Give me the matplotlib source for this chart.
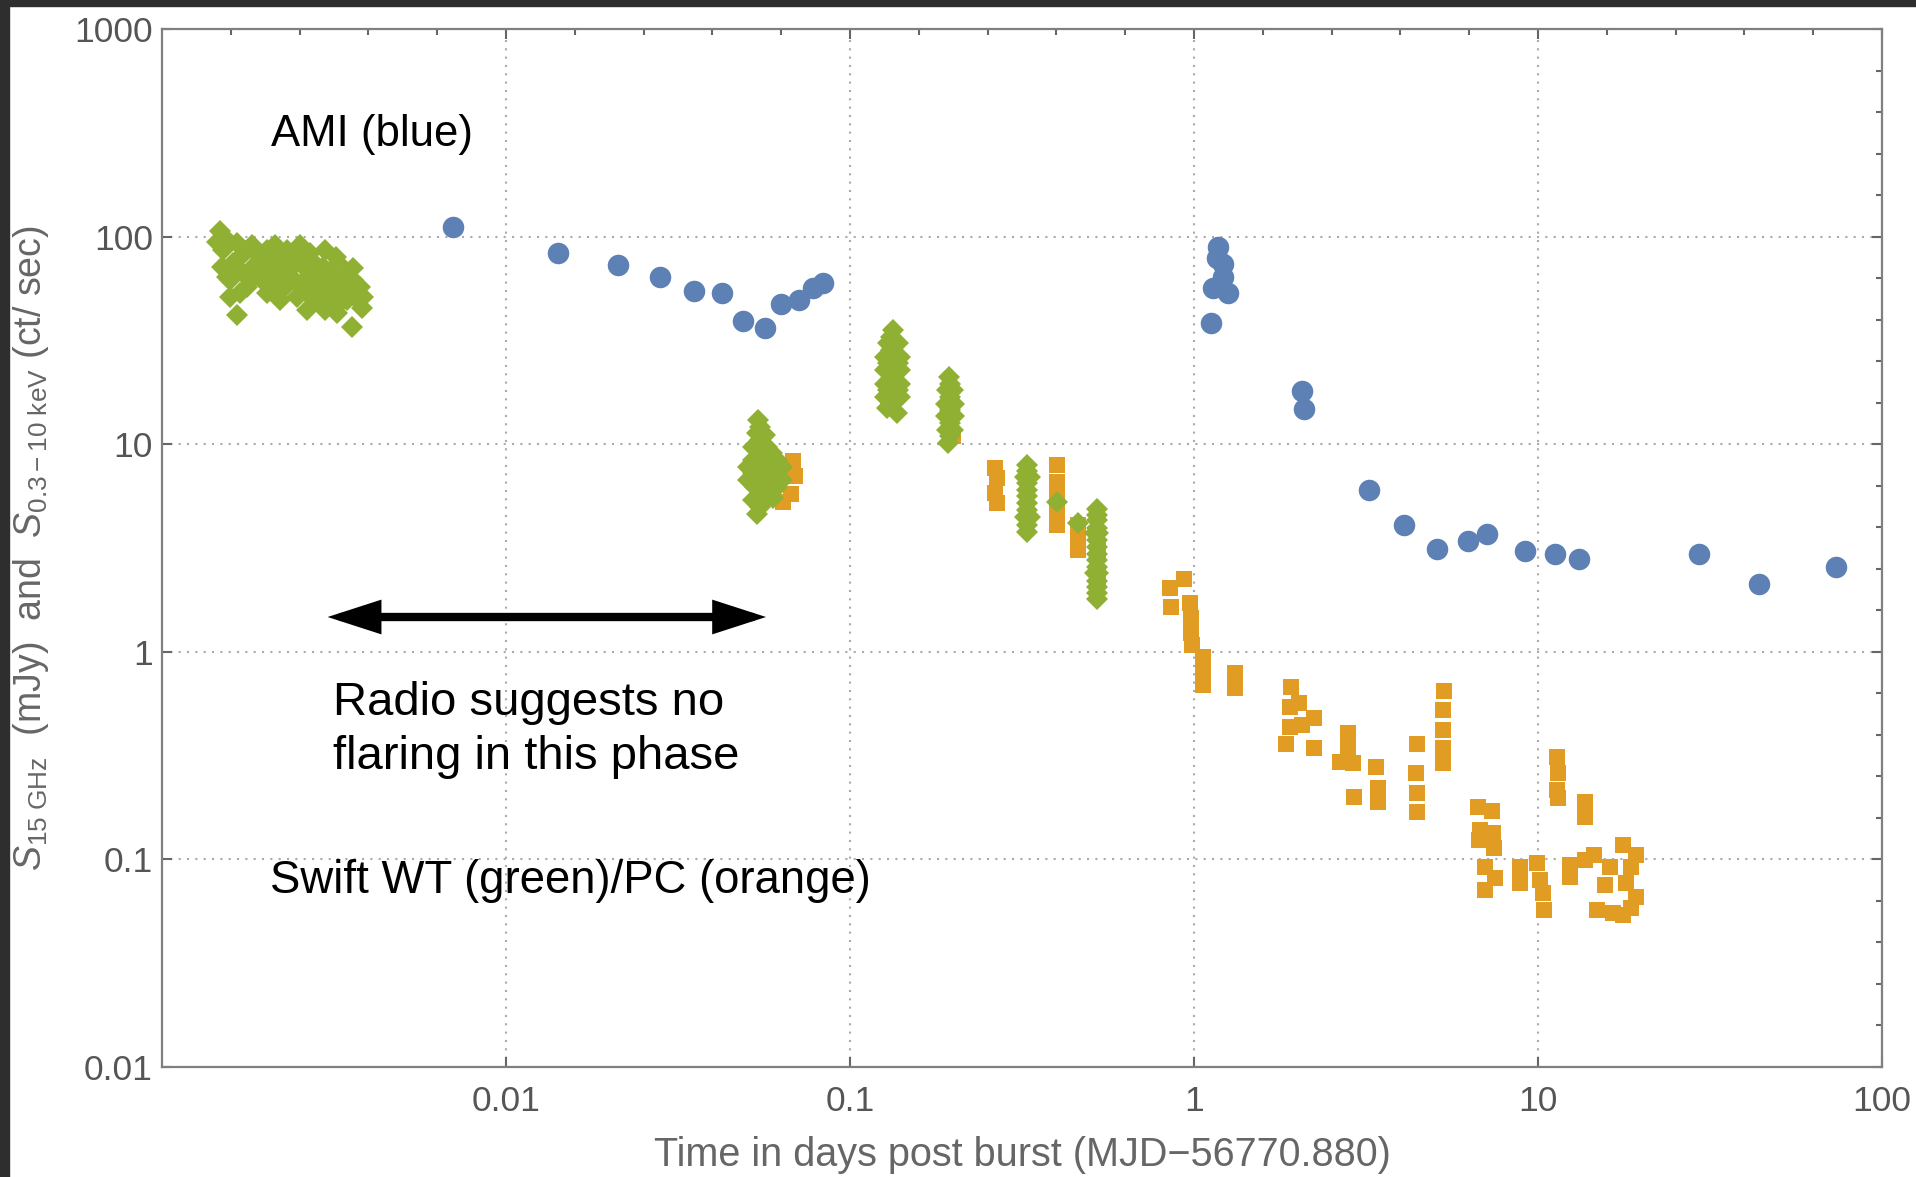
import numpy as np
import matplotlib
matplotlib.use("Agg")
import matplotlib.pyplot as plt
from matplotlib.ticker import FixedLocator, NullFormatter
from matplotlib.patches import Rectangle

plt.rcParams['font.family'] = ['Liberation Sans', 'DejaVu Sans']
plt.rcParams['mathtext.fontset'] = 'custom'
plt.rcParams['mathtext.rm'] = 'Liberation Sans'
plt.rcParams['mathtext.it'] = 'Liberation Sans:italic'

# AMI 15 GHz (mJy)
ami_t = [0.0070, 0.01413, 0.02113, 0.02808, 0.0351, 0.0425, 0.0490, 0.0568, 0.0631, 0.0709, 0.0782, 0.0836,
         1.177, 1.164, 1.212, 1.217, 1.133, 1.258, 1.120, 2.056, 2.09,
         3.22, 4.07, 5.08, 6.24, 7.11, 9.17, 11.2, 13.2, 29.3, 43.8, 73.3]
ami_f = [111, 83.2, 73.0, 64.1, 54.8, 53.7, 39.4, 36.4, 47.2, 49.5, 56.4, 60.0,
         89.3, 78.5, 73.8, 64.1, 56.4, 53.7, 38.2, 18.0, 14.7,
         6.01, 4.06, 3.14, 3.40, 3.69, 3.05, 2.97, 2.81, 2.97, 2.12, 2.56]

# Swift XRT WT mode (ct/s)
wt_t = [0.001474, 0.001442, 0.001508, 0.001491, 0.001576, 0.001649, 0.001685, 0.001823, 0.001843, 0.001763,
        0.002015, 0.002131, 0.002061, 0.001993, 0.002253, 0.002355, 0.002179, 0.002518, 0.002490, 0.002634,
        0.002462, 0.002634, 0.002784, 0.002977, 0.002944, 0.002977, 0.003147, 0.003256, 0.003219, 0.003441,
        0.003598, 0.003559, 0.003764, 0.003848, 0.003806, 0.003441, 0.002815, 0.001576,
        0.001542, 0.001612, 0.001542, 0.001685, 0.001927, 0.001723, 0.001927, 0.002203, 0.002304, 0.002693,
        0.002462, 0.002634, 0.002944, 0.003011, 0.003292, 0.003366, 0.003598, 0.003147, 0.002815, 0.002015,
        0.002203, 0.001649,
        0.00175, 0.00195, 0.00215, 0.00240, 0.00260, 0.00280, 0.00310, 0.00330, 0.00360, 0.00370,
        0.00300, 0.00210, 0.00180, 0.00160, 0.00230, 0.00270, 0.00320,
        0.05414, 0.05354, 0.05660, 0.05236, 0.05724, 0.05236, 0.05660, 0.06119, 0.05236, 0.05660,
        0.06119, 0.05295, 0.05724, 0.06119, 0.05236, 0.05660, 0.05984, 0.05354,
        0.05475, 0.05475, 0.05475, 0.05918, 0.05475, 0.05918, 0.06328, 0.05475, 0.05918, 0.06328,
        0.05475, 0.05852, 0.05475, 0.05064, 0.05064,
        0.1336, 0.1292, 0.1382, 0.1264, 0.1397, 0.1264, 0.1397, 0.1264, 0.1397, 0.1264, 0.1397,
        0.1278, 0.1367, 0.1336, 0.1336, 0.1336,
        0.1320, 0.1320, 0.1320, 0.1320, 0.1320, 0.1292, 0.1382, 0.1292, 0.1382,
        0.1944, 0.1910, 0.1997, 0.1901, 0.2006, 0.1901, 0.2006, 0.1910, 0.1997, 0.1931,
        0.1955, 0.1955, 0.1955, 0.1955, 0.1955,
        0.3277, 0.3227, 0.3337, 0.3263, 0.3277, 0.3227, 0.3337, 0.3277,
        0.3280, 0.3280, 0.3280, 0.3280, 0.3280,
        0.3988, 0.4610,
        0.5212, 0.5212, 0.5155, 0.5271, 0.5212, 0.5212, 0.5155, 0.5271, 0.5212, 0.5212,
        0.5212, 0.5212, 0.5212, 0.5212, 0.5212, 0.5212, 0.5212]
wt_f = [106.8, 94.5, 86.2, 71.6, 61.8, 41.9, 80.1, 91.1, 71.6, 57.4,
        86.2, 91.1, 71.6, 59.5, 78.6, 64.1, 55.3, 91.1, 77.1, 69.0,
        51.4, 44.3, 59.5, 86.2, 71.6, 44.3, 57.4, 74.3, 42.7, 64.1,
        70.4, 36.6, 57.4, 51.4, 45.1, 49.5, 49.5, 51.4,
        96.3, 74.3, 64.1, 53.3, 80.1, 66.5, 64.1, 66.5, 86.2, 83.1,
        59.5, 53.3, 53.3, 64.1, 64.1, 49.5, 57.4, 47.7, 71.6, 53.3,
        49.5, 92.8,
        85.0, 75.0, 80.0, 72.0, 62.0, 65.0, 68.0, 55.0, 62.0, 50.0,
        60.0, 60.0, 62.0, 70.0, 58.0, 78.0, 80.0,
        13.08, 11.28, 11.07, 9.73, 9.73, 8.39, 8.39, 8.39, 7.24, 7.24,
        7.24, 6.24, 6.24, 6.24, 5.39, 5.39, 5.49, 4.61,
        12.15, 10.47, 9.04, 9.04, 7.79, 7.79, 7.79, 6.72, 6.72, 6.72,
        5.80, 5.80, 5.00, 7.79, 6.72,
        35.5, 30.6, 30.6, 26.4, 26.4, 22.8, 22.8, 19.6, 19.6, 16.9, 16.9,
        14.9, 14.1, 21.1, 26.4, 17.5,
        33.0, 28.5, 24.5, 18.2, 15.7, 24.5, 24.5, 18.2, 18.2,
        21.1, 18.2, 18.2, 15.7, 15.7, 13.6, 13.6, 11.7, 11.7, 10.1,
        19.6, 16.9, 14.6, 12.6, 10.9,
        7.94, 6.98, 6.98, 6.02, 5.19, 4.48, 4.48, 3.79,
        7.45, 6.50, 5.60, 4.80, 4.10,
        5.29, 4.15,
        4.86, 4.31, 3.72, 3.72, 3.21, 2.77, 2.39, 2.39, 2.06, 1.79,
        4.55, 3.95, 3.45, 2.97, 2.57, 2.20, 1.92]

# Swift XRT PC mode (ct/s)
pc_t = [0.06844, 0.06920, 0.06737, 0.06399, 0.1997,
        0.2639, 0.2668, 0.2639, 0.2668,
        0.3988, 0.3988, 0.3988, 0.3988, 0.3988,
        0.4610, 0.4610, 0.4610,
        0.5271, 0.5271, 0.5212,
        0.9374, 0.8517, 0.8555, 0.9736, 0.9779, 0.9779, 0.9845, 1.0597, 1.0597, 1.0597, 1.3156, 1.3156,
        1.918, 1.899, 2.020, 1.899, 2.054, 1.854, 2.237, 2.237,
        2.812, 2.812, 2.653, 2.890, 2.910, 3.372, 3.429, 3.429,
        4.461, 4.430, 4.461, 4.461,
        5.344, 5.307, 5.307, 5.307, 5.307,
        6.673, 7.343, 6.788, 7.393, 6.720, 7.444, 7.024, 7.520, 7.024,
        8.889, 8.889, 9.95, 10.12, 10.33, 10.40,
        11.33, 11.45, 11.33, 11.41, 13.67, 13.67, 12.42, 12.42, 13.67, 14.54,
        17.66, 19.24, 16.21, 18.59, 15.67, 17.97, 19.24, 14.89, 16.50, 17.66, 18.59]
pc_f = [8.30, 7.03, 5.76, 5.29, 10.9,
        7.65, 6.85, 5.80, 5.19,
        7.94, 6.60, 5.59, 4.73, 4.08,
        4.08, 3.52, 3.09,
        3.09, 2.30, 1.98,
        2.234, 2.022, 1.649, 1.712, 1.449, 1.228, 1.078, 0.9475, 0.8172, 0.6918, 0.7873, 0.6668,
        0.679, 0.544, 0.565, 0.436, 0.444, 0.360, 0.478, 0.343,
        0.405, 0.349, 0.296, 0.290, 0.199, 0.280, 0.220, 0.190,
        0.358, 0.260, 0.208, 0.170,
        0.650, 0.524, 0.420, 0.343, 0.290,
        0.178, 0.172, 0.1385, 0.1335, 0.124, 0.113, 0.0923, 0.0811, 0.0712,
        0.0923, 0.0767, 0.0957, 0.0796, 0.0686, 0.0571,
        0.3125, 0.2598, 0.2159, 0.1968, 0.1897, 0.1606, 0.0940, 0.0826, 0.0993, 0.1050,
        0.1173, 0.1050, 0.0923, 0.0923, 0.0753, 0.0767, 0.0661, 0.0571, 0.0550, 0.0540, 0.0581]

blue = '#5E81B5'
orange = '#E19C24'
green = '#8FB032'
gray = '#666666'

fig = plt.figure(figsize=(19.16, 11.77), dpi=100)
ax = fig.add_axes([162 / 1916, 1 - 1067 / 1177, 1720 / 1916, 1038 / 1177])

ax.plot(pc_t, pc_f, 's', color=orange, ms=11.8, mew=0, zorder=3)
ax.plot(wt_t, wt_f, 'D', color=green, ms=11, mew=0, zorder=4)
ax.plot(ami_t, ami_f, 'o', color=blue, ms=15.5, mew=0, zorder=5)

ax.set_xscale('log')
ax.set_yscale('log')
ax.set_xlim(1e-3, 100)
ax.set_ylim(0.01, 1000)

xt = [0.01, 0.1, 1, 10, 100]
yt = [0.01, 0.1, 1, 10, 100, 1000]
ax.xaxis.set_major_locator(FixedLocator(xt))
ax.yaxis.set_major_locator(FixedLocator(yt))
ax.set_xticklabels(['0.01', '0.1', '1', '10', '100'])
ax.set_yticklabels(['0.01', '0.1', '1', '10', '100', '1000'])
xminor = [10 ** (k / 5) for k in range(-15, 11) if k % 5 != 0]
yminor = [10 ** (k / 5) for k in range(-10, 16) if k % 5 != 0]
ax.xaxis.set_minor_locator(FixedLocator(xminor))
ax.yaxis.set_minor_locator(FixedLocator(yminor))
ax.xaxis.set_minor_formatter(NullFormatter())
ax.yaxis.set_minor_formatter(NullFormatter())

ax.tick_params(which='major', direction='in', length=7, width=1.5, color=gray,
               top=True, right=True, labelsize=25.5, labelcolor='#555555')
ax.tick_params(axis='x', which='major', pad=13)
ax.tick_params(axis='y', which='major', pad=6.5)
ax.tick_params(which='minor', direction='in', length=4.5, width=1.5, color=gray,
               bottom=False, left=False, top=True, right=True)

for s in ax.spines.values():
    s.set_color('#808080')
    s.set_linewidth(1.6)

ax.grid(which='major', linestyle=(0, (1, 3)), color='#aaaaaa', lw=1.5)
ax.set_axisbelow(True)

ax.set_xlabel('Time in days post burst (MJD\u221256770.880)', fontsize=28.5, color=gray)
ax.xaxis.set_label_coords(0.5, -0.066)
ax.set_ylabel(r'$S_{\rm 15\ GHz}$  (mJy)  and  $S_{\rm 0.3-10\ keV}$ (ct/ sec)', fontsize=27, color=gray)
ax.yaxis.set_label_coords(-0.0645, 0.5)

ax.text(0.002075, 312, 'AMI (blue)', fontsize=31.5, color='black', va='center', ha='left')
ax.text(0.00314, 0.42, 'Radio suggests no\nflaring in this phase', fontsize=34, color='black',
        va='center', ha='left', linespacing=1.3)
ax.text(0.00206, 0.0787, 'Swift WT (green)/PC (orange)', fontsize=32.8, color='black', va='center', ha='left')

ax.annotate('', xy=(0.0570, 1.471), xytext=(0.00303, 1.471),
            arrowprops=dict(arrowstyle='<|-|>,head_length=1.3,head_width=0.42', mutation_scale=20,
                            lw=6, color='black', shrinkA=0, shrinkB=0, joinstyle='miter'))

# dark border strips of the screenshot
fig.patches.append(Rectangle((0, 1 - 6 / 1177), 1, 6 / 1177, transform=fig.transFigure,
                             color='#2e2e2e', zorder=10))
fig.patches.append(Rectangle((0, 0), 9 / 1916, 1, transform=fig.transFigure,
                             color='#2e2e2e', zorder=10))

fig.savefig('out.png', dpi=100, facecolor='white')
